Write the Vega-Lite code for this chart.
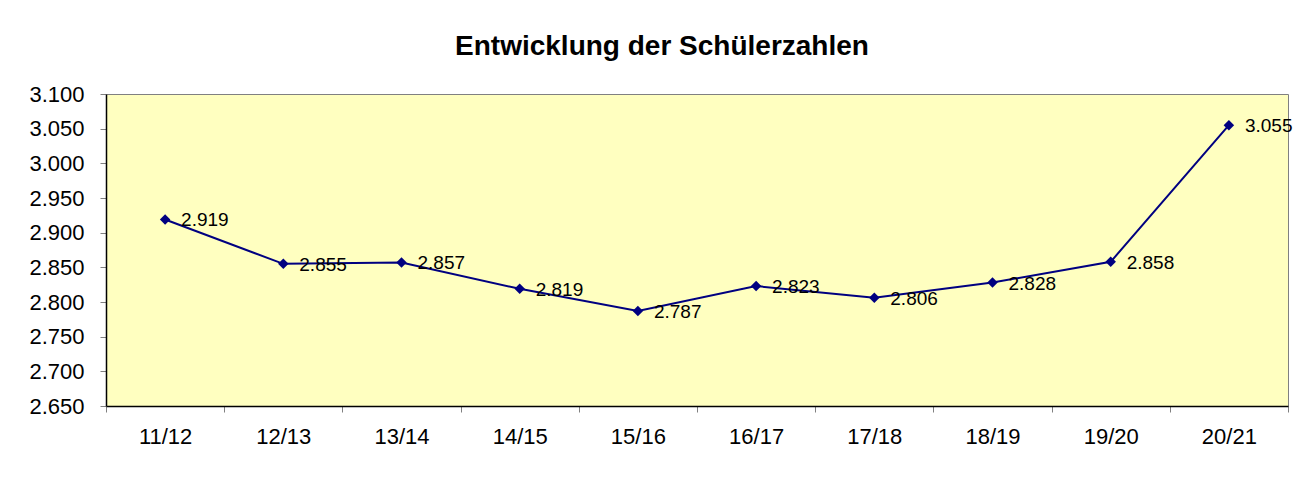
{
  "$schema": "https://vega.github.io/schema/vega-lite/v6.json",
  "width": 1182,
  "height": 312,
  "autosize": {"type": "none"},
  "padding": {"left": 106, "top": 94, "right": 25, "bottom": 71},
  "background": "white",
  "config": {
    "locale": {"number": {"decimal": ",", "thousands": ".", "grouping": [3], "currency": ["", " €"]}},
    "font": "Liberation Sans",
    "view": {"fill": "#FFFFC0", "stroke": "#808080", "strokeWidth": 1}
  },
  "title": {
    "text": "Entwicklung der Schülerzahlen",
    "fontSize": 28,
    "fontWeight": "bold",
    "font": "Liberation Sans",
    "color": "black",
    "offset": 22,
    "dx": -35
  },
  "data": {
    "values": [
      {"jahr": "11/12", "schueler": 2919},
      {"jahr": "12/13", "schueler": 2855},
      {"jahr": "13/14", "schueler": 2857},
      {"jahr": "14/15", "schueler": 2819},
      {"jahr": "15/16", "schueler": 2787},
      {"jahr": "16/17", "schueler": 2823},
      {"jahr": "17/18", "schueler": 2806},
      {"jahr": "18/19", "schueler": 2828},
      {"jahr": "19/20", "schueler": 2858},
      {"jahr": "20/21", "schueler": 3055}
    ]
  },
  "encoding": {
    "x": {
      "field": "jahr",
      "type": "ordinal",
      "sort": null,
      "scale": {"type": "band", "paddingInner": 0, "paddingOuter": 0},
      "axis": {
        "title": null,
        "labelAngle": 0,
        "labelFontSize": 22,
        "labelColor": "black",
        "labelPadding": 14,
        "tickBand": "extent",
        "tickSize": 6,
        "tickColor": "#808080",
        "domainColor": "black",
        "domainWidth": 1.5,
        "grid": false
      }
    },
    "y": {
      "field": "schueler",
      "type": "quantitative",
      "scale": {"domain": [2650, 3100], "nice": false, "zero": false},
      "axis": {
        "title": null,
        "values": [2650, 2700, 2750, 2800, 2850, 2900, 2950, 3000, 3050, 3100],
        "format": ",.0f",
        "labelFontSize": 22,
        "labelColor": "black",
        "labelPadding": 16,
        "tickSize": 6,
        "tickColor": "#808080",
        "domainColor": "black",
        "domainWidth": 1.5,
        "grid": false
      }
    }
  },
  "layer": [
    {"mark": {"type": "line", "color": "#000080", "strokeWidth": 2}},
    {"mark": {"type": "point", "shape": "diamond", "filled": true, "color": "#000080", "size": 110, "opacity": 1}},
    {
      "mark": {"type": "text", "align": "left", "baseline": "middle", "dx": 16, "dy": 1, "fontSize": 19, "color": "black"},
      "encoding": {"text": {"field": "schueler", "type": "quantitative", "format": ",.0f"}}
    }
  ]
}
